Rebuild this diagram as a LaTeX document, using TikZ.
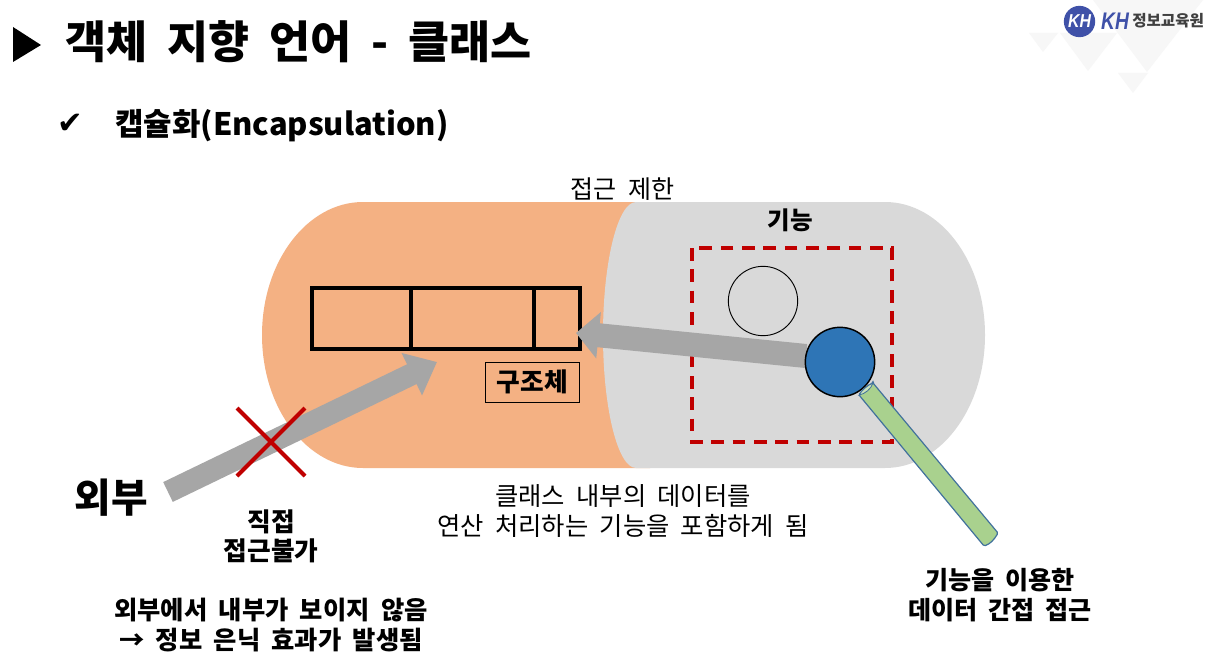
\documentclass[tikz,border=0pt]{standalone}
\usepackage{fontspec}
\usetikzlibrary{arrows.meta}
\newfontfamily\kr{Noto Sans CJK KR}
\newfontfamily\djv{DejaVu Sans}
\newfontfamily\lib{Liberation Sans}
\newcommand{\widegap}{\hspace{0.445em}}
\definecolor{orangefill}{HTML}{F4B183}
\definecolor{grayfill}{HTML}{D9D9D9}
\definecolor{arrowgray}{HTML}{A6A6A6}
\definecolor{kred}{HTML}{C00000}
\definecolor{kblue}{HTML}{2E75B6}
\definecolor{kgreen}{HTML}{A9D18E}
\definecolor{kedge}{HTML}{41719C}
\definecolor{logob}{HTML}{3F51A8}
\definecolor{wm}{HTML}{F7F7F7}
\tikzset{
  px/.style={x=0.75pt,y=-0.75pt},
  txt/.style={inner sep=0pt,align=center,font=\kr\fontsize{#1}{22}\selectfont},
  btxt/.style={inner sep=0pt,align=center,font=\kr\bfseries\fontsize{#1}{22}\selectfont},
  cellbox/.style={draw=black,line width=2.3pt,minimum height=45.75pt,inner sep=0pt,outer sep=0pt,anchor=north west},
  blockarrow/.style={draw=arrowgray},
}
\begin{document}
\begin{tikzpicture}[px]
\useasboundingbox (0,0) rectangle (1213,660);
\fill[white] (0,0) rectangle (1213,660);
% watermark
\fill[wm] (1029,33) -- (1058,33) -- (1043,52) -- cycle;
\fill[wm] (1060,33) -- (1117,33) -- (1088,71) -- cycle;
\fill[wm] (1118,73) -- (1148,73) -- (1133,93) -- cycle;
\fill[wm] (1093,0) -- (1203,0) -- (1147,72) -- cycle;
% logo
\node[circle,fill=logob,minimum size=23.5pt,inner sep=0pt] (logo) at (1079.5,21.5) {};
\node[inner sep=0pt,text=white,xscale=0.85,font=\lib\bfseries\itshape\fontsize{14}{14}\selectfont] (logok) at (1079.5,21.5) {KH};
\node[inner sep=0pt,anchor=west,text=logob,xscale=0.8,font=\lib\bfseries\itshape\fontsize{18}{18}\selectfont] (logoh) at (1101,21) {KH};
\node[inner sep=0pt,anchor=west,text=black!75,font=\kr\bfseries\fontsize{11.7}{12}\selectfont] (logot) at (1132,21) {정보교육원};
% title
\fill[black] (13,27) -- (41,45) -- (13,62) -- cycle;
\node[btxt=33.5,anchor=west] (title) at (65,42) {객체\widegap 지향\widegap 언어\widegap -\widegap 클래스};
\node[inner sep=0pt,font=\djv\fontsize{23}{23}\selectfont] (check) at (70,124) {✔};
\node[inner sep=0pt,anchor=west,font=\kr\bfseries\fontsize{23.2}{24}\selectfont] (sub) at (115,125.5) {캡슐화(Encapsulation)};
% capsule
\fill[orangefill] (363,202) -- (650,202) -- (650,468) -- (363,468) arc[start angle=270,end angle=90,x radius=101,y radius=-133] -- cycle;
\fill[grayfill] (636,202) -- (885,202) arc[start angle=90,end angle=-90,x radius=100,y radius=-133] -- (636,468) arc[start angle=270,end angle=90,x radius=33,y radius=-133] -- cycle;
\node[txt=18.8] (t1) at (622.5,189) {접근\widegap 제한};
\node[btxt=18.4] (t2) at (790.5,220) {기능};
% cells
\node[cellbox,minimum width=74.25pt] (c1) at (312,288) {};
\node[cellbox,minimum width=92.25pt] (c2) at (411,288) {};
\node[cellbox,minimum width=34.5pt] (c3) at (534,288) {};
\node[draw=black,line width=0.6pt,minimum width=71pt,minimum height=30pt,btxt=19.3] (st) at (532.5,382) {구조체};
% function area
\draw[kred,line width=2.3pt,dash pattern=on 9.4pt off 6.6pt] (692,248) rectangle (892,442);
\node[circle,draw=black,line width=0.7pt,minimum size=52pt,inner sep=0pt] (f1) at (763,301) {};
% arrows
\coordinate (a1s) at (168,492);
\coordinate (a1e) at (437,362);
\coordinate (a2s) at (806,356);
\coordinate (a2e) at (576,333);
\draw[blockarrow,line width=16.5pt,-{Triangle[length=21pt,width=34pt]}] (a1s) -- (a1e);
\draw[blockarrow,line width=18pt,-{Triangle[length=17pt,width=34pt]}] (a2s) -- (a2e);
\node[circle,draw=black,fill=kblue,line width=1.1pt,minimum size=52pt,inner sep=0pt] (f2) at (840,362) {};
% stick
\draw[kedge,line width=0.9pt,fill=kgreen,rounded corners=1pt] (873,383) -- (998,533) .. controls (994,540) and (990,544) .. (984,546) -- (859,395) .. controls (862,390) and (868,385) .. (873,383) -- cycle;
\draw[kedge,line width=0.6pt,fill=kgreen!60] (873,383) .. controls (868,385) and (862,390) .. (859,395) .. controls (865,394) and (871,389) .. (873,383) -- cycle;
% X
\coordinate (x1) at (237,408);
\coordinate (x2) at (305,476);
\coordinate (x3) at (237,476);
\coordinate (x4) at (305,408);
\draw[kred,line width=3pt] (x1) -- (x2);
\draw[kred,line width=3pt] (x3) -- (x4);
% labels
\node[btxt=29.8] (out) at (111,498) {외부};
\node[btxt=19.3] (no) at (271,536) {직접\\접근불가};
\node[txt=19] (desc) at (623,511) {클래스\widegap 내부의\widegap 데이터를\\연산\widegap 처리하는\widegap 기능을\widegap 포함하게\widegap 됨};
\node[btxt=18.8] (ind) at (1000,595) {기능을\widegap 이용한\\데이터\widegap 간접\widegap 접근};
\node[btxt=19] (hid) at (271,625) {외부에서\widegap 내부가\widegap 보이지\widegap 않음\\→\widegap 정보\widegap 은닉\widegap 효과가\widegap 발생됨};
\end{tikzpicture}
\end{document}
